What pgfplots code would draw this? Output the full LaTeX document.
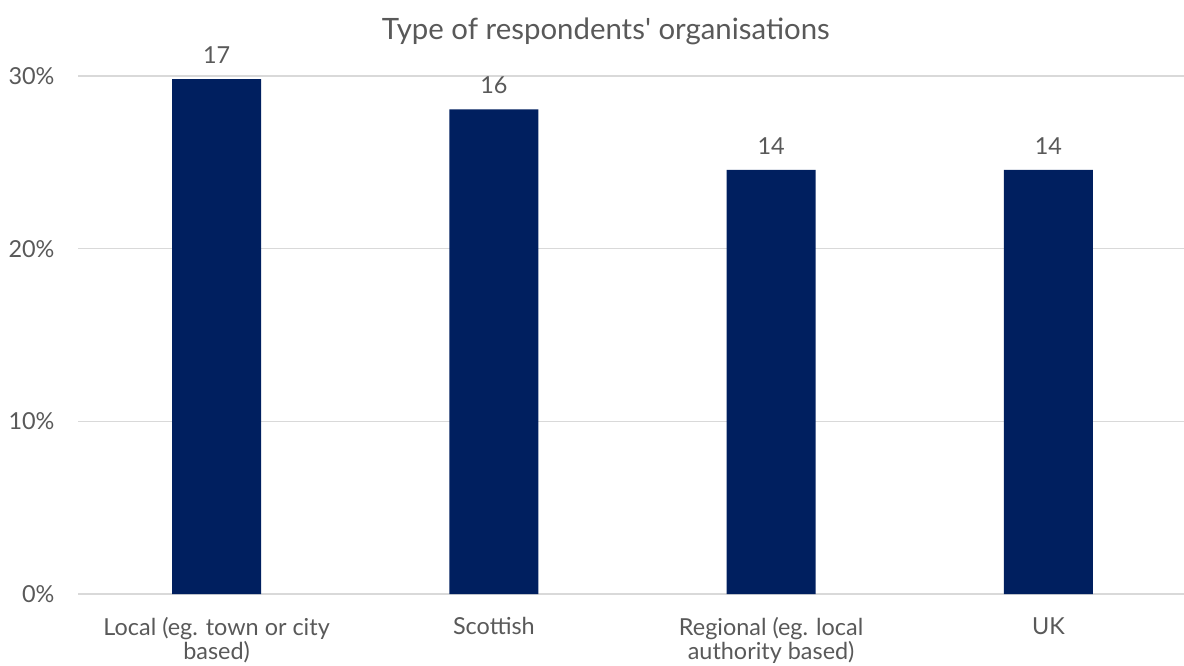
\documentclass[border=0pt]{standalone}
\usepackage{pgfplots}
\pgfplotsset{compat=1.18}
\usepackage{pgfplotstable}
\usepackage{fontspec}
\setmainfont{Lato}
\definecolor{barc}{RGB}{0,31,95}
\definecolor{txt}{RGB}{89,89,89}
\definecolor{gridc}{RGB}{217,217,217}
\pgfplotstableread{
x y lab
0 29.82 17
1 28.07 16
2 24.56 14
3 24.56 14
}\data
\begin{document}
\begin{tikzpicture}
\path[use as bounding box] (0,0) rectangle (1184bp,666bp);
\begin{axis}[
  at={(78bp,72bp)}, anchor=south west,
  scale only axis, width=1109bp, height=518bp,
  xmin=-0.5, xmax=3.5, ymin=0, ymax=30,
  ybar, bar width=89bp, bar shift=0pt,
  axis line style={draw=none},
  major tick length=0pt,
  ymajorgrids, grid style={gridc, line width=1.3bp},
  ytick={0,10,20,30},
  yticklabel={\pgfmathprintnumber{\tick}\%},
  /pgf/number format/assume math mode=true,
  yticklabel style={font=\fontsize{23.5}{24}\selectfont, color=txt, anchor=east, xshift=-20bp},
  xtick={0,1,2,3},
  xticklabels={{Local (eg. town or city\\based)},{Scottish},{Regional (eg. local\\authority based)},{UK}},
  xticklabel style={font=\fontsize{23.5}{24}\selectfont, color=txt, align=center, anchor=north, yshift=-20bp},
  title={Type of respondents\textquotesingle\ organisations},
  title style={at={(0.476,1)}, anchor=base, yshift=31bp, font=\fontsize{29.5}{32}\selectfont, color=txt},
  nodes near coords,
  point meta=explicit symbolic,
  every node near coord/.append style={font=\fontsize{23.5}{24}\selectfont, color=txt, yshift=12bp},
]
\addplot[fill=barc, draw=none] table[x=x, y=y, meta=lab] {\data};
\end{axis}
\end{tikzpicture}
\end{document}
